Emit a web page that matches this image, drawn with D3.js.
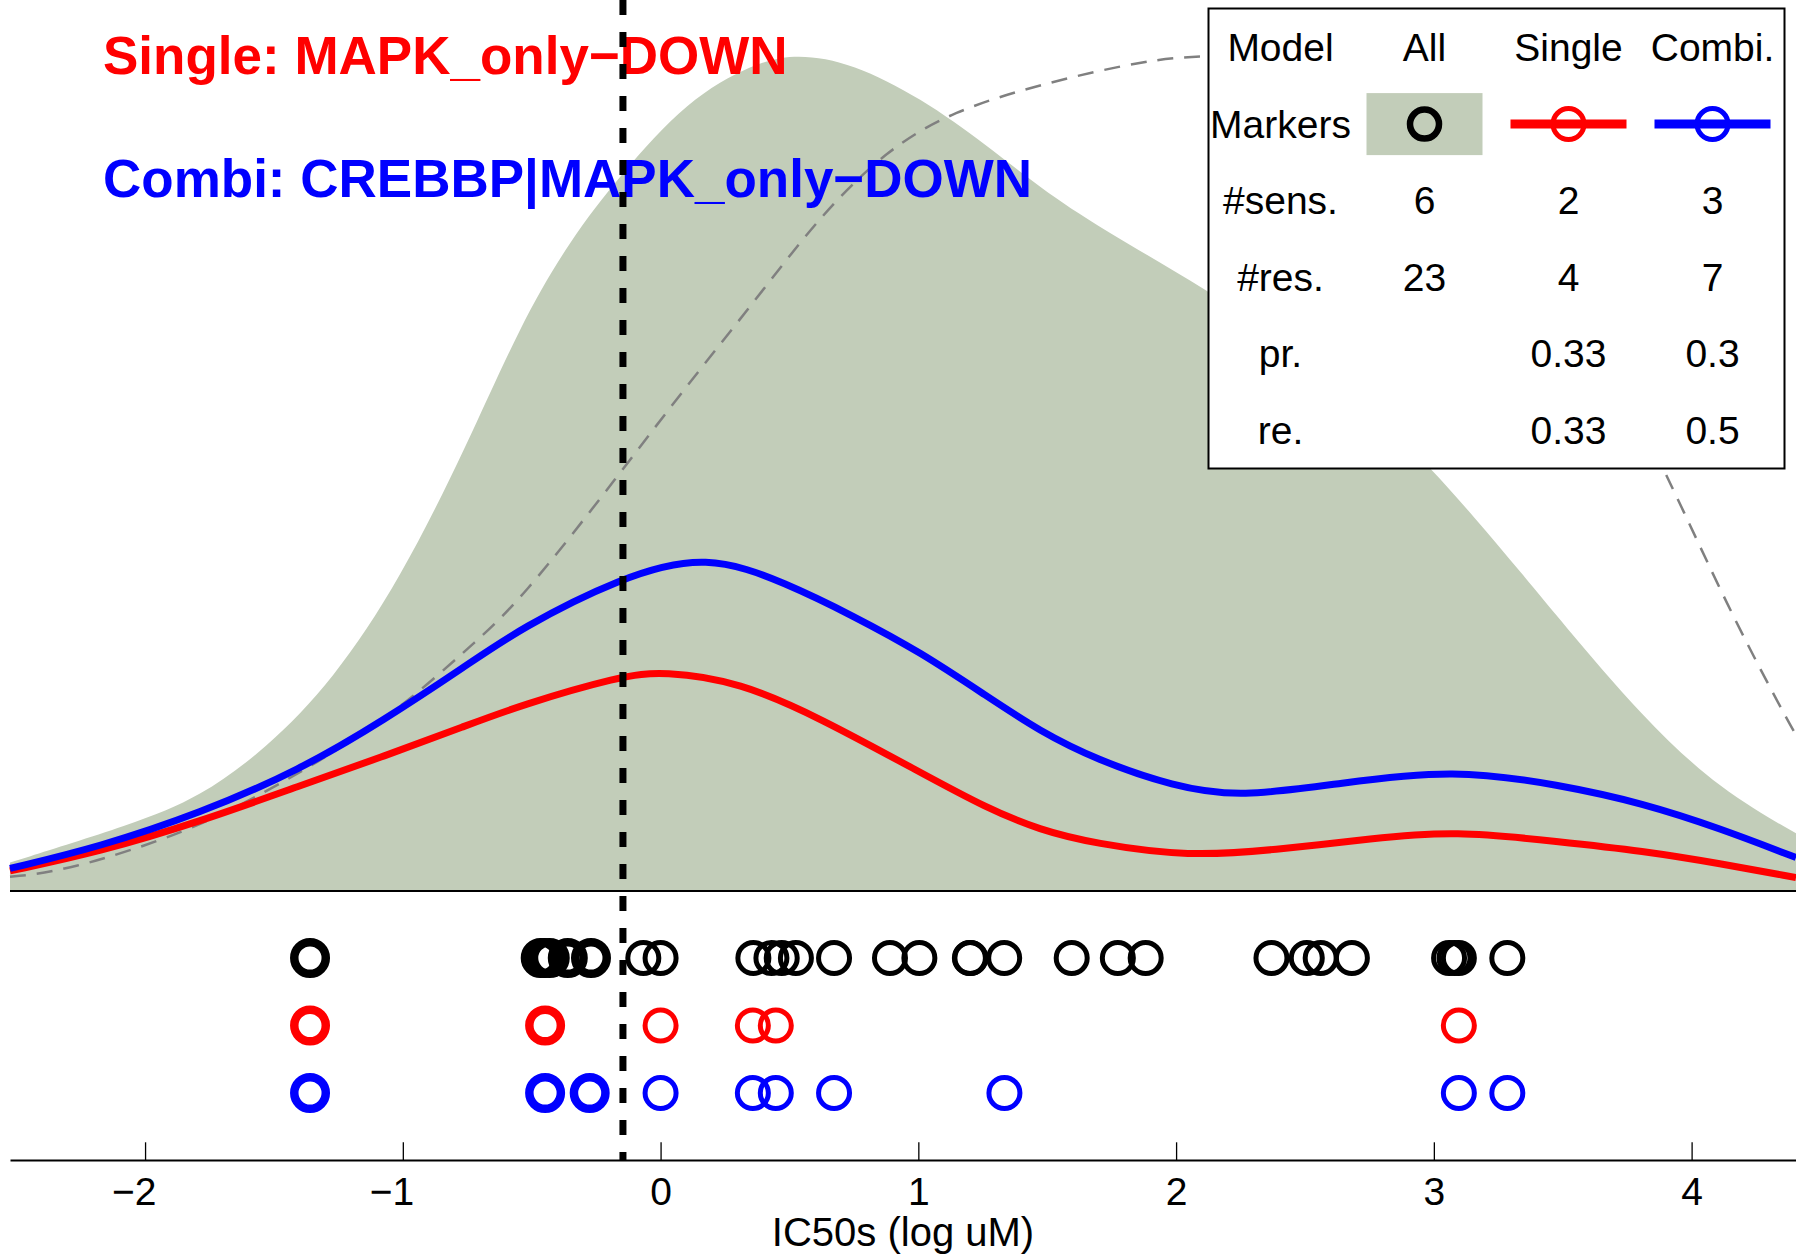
<!DOCTYPE html>
<html>
<head>
<meta charset="utf-8">
<script src="https://cdn.jsdelivr.net/npm/d3@7"></script>
<style>
  body { margin: 0; background: #fff; }
  svg { display: block; font-family: "Liberation Sans", Arial, Helvetica, sans-serif; }
</style>
</head>
<body>
<script>
'use strict';

// ---- values ----
// each pair is [log IC50 (log uM), density], density scaled so the "All" peak is ~1

// filled density of all cell lines
const allDensity = [
  [-2.524, 0.034], [-2.047, 0.080], [-1.787, 0.112], [-1.527, 0.171], [-1.271, 0.252],
  [-1.011, 0.372], [-0.751, 0.533], [-0.545, 0.677], [-0.351, 0.779], [-0.157, 0.856],
  [0.103, 0.946], [0.359, 0.990], [0.529, 1.002], [0.747, 0.990], [1.007, 0.949],
  [1.267, 0.892], [1.472, 0.841], [1.705, 0.793], [2.124, 0.719], [2.481, 0.645],
  [2.792, 0.566], [2.990, 0.505], [3.152, 0.449], [3.346, 0.378], [3.490, 0.324],
  [3.812, 0.207], [4.110, 0.121], [4.405, 0.069]
];

// red line (single model)
const singleDensity = [
  [-2.524, 0.024], [-2.175, 0.047], [-1.787, 0.083], [-1.398, 0.126], [-1.075, 0.161],
  [-0.752, 0.198], [-0.545, 0.222], [-0.157, 0.257], [0.011, 0.263], [0.308, 0.250],
  [0.619, 0.207], [1.007, 0.142], [1.266, 0.099], [1.472, 0.073], [1.679, 0.057],
  [2.054, 0.041], [2.378, 0.049], [2.766, 0.063], [3.076, 0.072], [3.490, 0.059],
  [3.811, 0.048], [4.110, 0.033], [4.405, 0.016]
];

// blue line (combi model)
const combiDensity = [
  [-2.524, 0.027], [-2.175, 0.053], [-1.787, 0.093], [-1.398, 0.145], [-1.075, 0.204],
  [-0.752, 0.270], [-0.545, 0.314], [-0.157, 0.375], [0.179, 0.404], [0.490, 0.368],
  [0.748, 0.329], [1.007, 0.286], [1.266, 0.233], [1.472, 0.191], [1.692, 0.157],
  [1.990, 0.125], [2.248, 0.112], [2.636, 0.129], [3.076, 0.146], [3.490, 0.127],
  [3.811, 0.105], [4.110, 0.075], [4.405, 0.040]
];

// grey dashed curve
const referenceCurve = [
  [-2.524, 0.017], [-2.303, 0.024], [-1.837, 0.070], [-1.527, 0.119], [-1.271, 0.165],
  [-1.011, 0.218], [-0.751, 0.289], [-0.545, 0.346], [-0.157, 0.500], [0.103, 0.605],
  [0.359, 0.703], [0.619, 0.808], [0.879, 0.887], [1.135, 0.933], [1.472, 0.965],
  [1.880, 0.994], [2.124, 1.000], [2.481, 0.998], [2.870, 0.970], [3.063, 0.934],
  [3.257, 0.875], [3.451, 0.791], [3.645, 0.671], [3.890, 0.504], [3.944, 0.471],
  [4.165, 0.324], [4.386, 0.196], [4.405, 0.187]
];

// IC50 of each cell line, sensitive (bold) and resistant (thin)
const allSens = [-1.36, -0.465, -0.45, -0.43, -0.36, -0.27];
const allRes = [-0.067, 0.0, 0.36, 0.43, 0.47, 0.525, 0.673, 0.89, 1.004, 1.2, 1.202,
  1.333, 1.595, 1.774, 1.882, 2.37, 2.507, 2.561, 2.682, 3.059, 3.08, 3.097, 3.285];
const singleSens = [-1.36, -0.448];
const singleRes = [0.0, 0.358, 0.447, 3.097];
const combiSens = [-1.36, -0.448, -0.275];
const combiRes = [0.0, 0.358, 0.447, 0.673, 1.334, 3.097, 3.285];

const threshold = -0.146;
const xTicks = [-2, -1, 0, 1, 2, 3, 4];
const xLabel = "IC50s (log uM)";
const singleLabel = "Single: MAPK_only\u2212DOWN";
const combiLabel = "Combi: CREBBP|MAPK_only\u2212DOWN";

// summary table
const tableHeader = ["Model", "All", "Single", "Combi."];
const tableRows = [
  ["#sens.", "6", "2", "3"],
  ["#res.", "23", "4", "7"],
  ["pr.", "", "0.33", "0.3"],
  ["re.", "", "0.33", "0.5"]
];

(function() {

  let svgContainer = ""; // keep SVG reference in scope

  const fillColor = "rgb(194,205,185)";
  const colors = { all: "#000000", single: "#ff0000", combi: "#0000ff" };

  window.onload = function() {
    svgContainer = d3.select('body')
      .append('svg')
      .attr('width', 1796)
      .attr('height', 1256);
    makePlot();
  };

  function makePlot() {
    // x maps log IC50 to pixels, y maps density to pixels
    let xScale = d3.scaleLinear().domain([-2.524, 4.405]).range([10, 1796]);
    let yScale = d3.scaleLinear().domain([0, 1]).range([891, 55]);

    drawDensities(xScale, yScale);
    drawTitles();
    drawThreshold(xScale);
    drawMarkers(xScale);
    drawAxis(xScale);
    drawTable();
  }

  // filled density, dashed grey curve and the two model lines
  function drawDensities(x, y) {
    let area = d3.area()
      .curve(d3.curveBasis)
      .x((d) => x(d[0]))
      .y0(y(0))
      .y1((d) => y(d[1]));

    svgContainer.append('path')
      .datum(allDensity)
      .attr('d', area)
      .attr('fill', fillColor);

    svgContainer.append('line')
      .attr('x1', x.range()[0])
      .attr('x2', x.range()[1])
      .attr('y1', y(0))
      .attr('y2', y(0))
      .attr('stroke', '#000')
      .attr('stroke-width', 2);

    let line = d3.line()
      .curve(d3.curveBasis)
      .x((d) => x(d[0]))
      .y((d) => y(d[1]));

    svgContainer.append('path')
      .datum(referenceCurve)
      .attr('d', line)
      .attr('fill', 'none')
      .attr('stroke', '#808080')
      .attr('stroke-width', 2.5)
      .attr('stroke-dasharray', '16,11');

    svgContainer.append('path')
      .datum(singleDensity)
      .attr('d', line)
      .attr('fill', 'none')
      .attr('stroke', colors.single)
      .attr('stroke-width', 7);

    svgContainer.append('path')
      .datum(combiDensity)
      .attr('d', line)
      .attr('fill', 'none')
      .attr('stroke', colors.combi)
      .attr('stroke-width', 7);
  }

  // model names at the top left
  function drawTitles() {
    svgContainer.append('text')
      .attr('x', 103)
      .attr('y', 74)
      .attr('fill', colors.single)
      .style('font-size', '53px')
      .style('font-weight', 'bold')
      .text(singleLabel);

    svgContainer.append('text')
      .attr('x', 103)
      .attr('y', 197)
      .attr('fill', colors.combi)
      .style('font-size', '53px')
      .style('font-weight', 'bold')
      .text(combiLabel);
  }

  // vertical dashed threshold
  function drawThreshold(x) {
    svgContainer.append('line')
      .attr('x1', x(threshold))
      .attr('x2', x(threshold))
      .attr('y1', 0)
      .attr('y2', 1160)
      .attr('stroke', '#000')
      .attr('stroke-width', 7)
      .attr('stroke-dasharray', '15,17');
  }

  // one row of circles per model
  function drawMarkers(x) {
    let rowY = d3.scalePoint()
      .domain(['all', 'single', 'combi'])
      .range([958, 1093]);

    let points = [];
    let add = (group, values, sens) => values.forEach((v) => points.push({ group: group, value: v, sens: sens }));
    add('all', allRes, false);
    add('all', allSens, true);
    add('single', singleRes, false);
    add('single', singleSens, true);
    add('combi', combiRes, false);
    add('combi', combiSens, true);

    svgContainer.selectAll('.dot')
      .data(points)
      .enter()
      .append('circle')
        .attr('class', 'dot')
        .attr('cx', (d) => x(d.value))
        .attr('cy', (d) => rowY(d.group))
        .attr('r', (d) => d.sens ? 15.75 : 15.5)
        .attr('fill', 'none')
        .attr('stroke', (d) => colors[d.group])
        .attr('stroke-width', (d) => d.sens ? 8.5 : 5);
  }

  // bottom axis with ticks pointing up
  function drawAxis(x) {
    let axis = d3.axisBottom(x)
      .tickValues(xTicks)
      .tickSizeInner(-17.7)
      .tickSizeOuter(0)
      .tickFormat((d) => d < 0 ? "\u2212" + Math.abs(d) : String(d));

    let g = svgContainer.append('g')
      .attr('transform', 'translate(0, 1160)')
      .call(axis);

    g.attr('font-family', null).attr('font-size', null);
    g.select('.domain').attr('stroke-width', 1.8);
    g.selectAll('.tick line').attr('stroke-width', 1.3);
    // digits centred on the tick, minus sign hangs to the left
    g.selectAll('.tick text')
      .attr('y', 45)
      .attr('dy', null)
      .attr('x', 10.8)
      .attr('text-anchor', 'end')
      .attr('fill', '#000')
      .style('font-size', '39px');

    svgContainer.append('text')
      .attr('x', 903)
      .attr('y', 1246)
      .attr('text-anchor', 'middle')
      .style('font-size', '40px')
      .text(xLabel);
  }

  // summary table in the top right corner
  function drawTable() {
    let colX = [1280.5, 1424.5, 1568.5, 1712.5];
    let rowBase = (i) => 61 + i * 76.6;

    svgContainer.append('rect')
      .attr('x', 1208.5)
      .attr('y', 8.5)
      .attr('width', 576)
      .attr('height', 460)
      .attr('fill', '#fff')
      .attr('stroke', '#000')
      .attr('stroke-width', 2);

    let lines = [tableHeader, ["Markers", "", "", ""]].concat(tableRows);
    lines.forEach((row, i) => {
      row.forEach((cell, j) => {
        if (cell === "") return;
        svgContainer.append('text')
          .attr('x', colX[j])
          .attr('y', rowBase(i))
          .attr('text-anchor', 'middle')
          .style('font-size', '39px')
          .text(cell);
      });
    });

    // marker samples
    let cy = rowBase(1) - 13.5;
    svgContainer.append('rect')
      .attr('x', colX[1] - 58)
      .attr('y', cy - 31)
      .attr('width', 116)
      .attr('height', 62)
      .attr('fill', fillColor);
    svgContainer.append('circle')
      .attr('cx', colX[1])
      .attr('cy', cy)
      .attr('r', 14.5)
      .attr('fill', 'none')
      .attr('stroke', colors.all)
      .attr('stroke-width', 6.5);

    [['single', colX[2]], ['combi', colX[3]]].forEach((item) => {
      svgContainer.append('line')
        .attr('x1', item[1] - 58)
        .attr('x2', item[1] + 58)
        .attr('y1', cy)
        .attr('y2', cy)
        .attr('stroke', colors[item[0]])
        .attr('stroke-width', 9);
      svgContainer.append('circle')
        .attr('cx', item[1])
        .attr('cy', cy)
        .attr('r', 15.5)
        .attr('fill', 'none')
        .attr('stroke', colors[item[0]])
        .attr('stroke-width', 5);
    });
  }

})();
</script>
</body>
</html>
